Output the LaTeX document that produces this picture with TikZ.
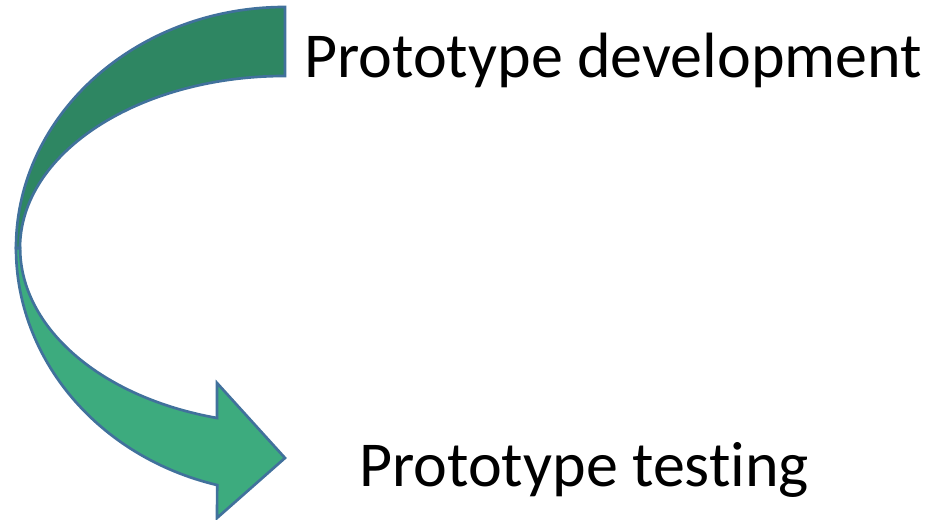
\documentclass[tikz,border=0pt]{standalone}
\usepackage{fontspec}
\setmainfont[Ligatures=NoCommon]{Carlito}
\usepackage{tikz}
\definecolor{bandDark}{RGB}{46,134,98}
\definecolor{bandLight}{RGB}{61,171,126}
\definecolor{bandEdge}{RGB}{65,113,156}

\begin{document}
\begin{tikzpicture}[x=0.75pt,y=0.75pt,yscale=-1,xscale=1,
    band/.style={draw=bandEdge, line width=2pt, line join=miter},
    caption/.style={anchor=base west, inner sep=0pt, font=\fontsize{48}{58}\selectfont}]
        \useasboundingbox (0,0) rectangle (933,520);

        %Curved Arrow, lower part with head
        \draw [band, fill=bandLight] (16,248) arc [start angle=180, end angle=104.6, x radius=269, y radius=245]
            -- (217,518) -- (285,458) -- (217,383) -- (217,418)
            arc [start angle=104.9, end angle=180, x radius=265, y radius=176] -- cycle ;
        %Curved Arrow, upper part
        \draw [band, fill=bandDark] (285,7) arc [start angle=-90, end angle=-180, x radius=269, y radius=241]
            -- (20,248) arc [start angle=180, end angle=270, x radius=265, y radius=172] -- cycle ;

        % Text Node
        \node [caption] (develop) at (304,78) {Prototype development};
        % Text Node
        \node [caption] (testing) at (359,487) {Prototype testing};

\end{tikzpicture}
\end{document}
